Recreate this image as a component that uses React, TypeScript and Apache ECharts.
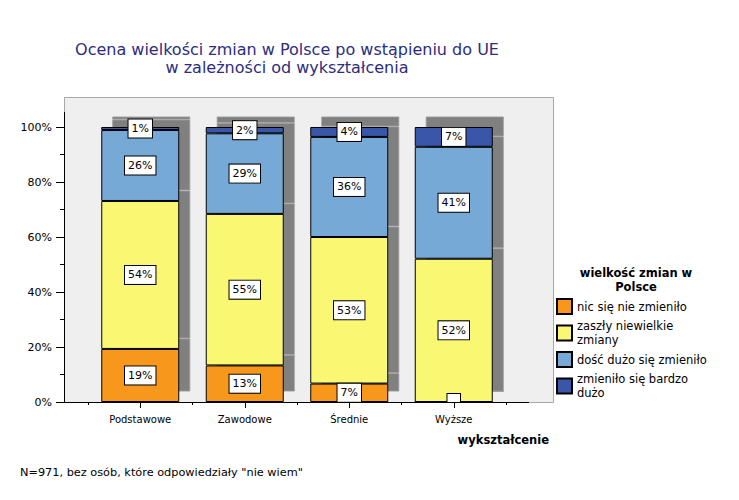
import React, { useEffect, useRef } from "react";
import * as echarts from "echarts";

const categories = ["Podstawowe", "Zawodowe", "Średnie", "Wyższe"];
const seriesNames = [
  "nic się nie zmieniło",
  "zaszły niewielkie\nzmiany",
  "dość dużo się zmieniło",
  "zmieniło się bardzo\ndużo",
];
const nicSieNieZmienilo = [19.3, 13.3, 6.7, 0];
const zaszlyNiewielkieZmiany = [53.8, 55.1, 53.3, 52.1];
const doscDuzoSieZmienilo = [25.8, 29.3, 36.4, 40.7];
const zmieniloSieBardzoDuzo = [1.1, 2.3, 3.6, 7.2];
const yTicks = [0, 20, 40, 60, 80, 100];

const seriesData = [nicSieNieZmienilo, zaszlyNiewielkieZmiany, doscDuzoSieZmienilo, zmieniloSieBardzoDuzo];
const colors = ["#F7981D", "#FAF873", "#77A9D6", "#3A56A8"];
const FONT = "DejaVu Sans";

export default function App() {
  const ref = useRef<HTMLDivElement>(null);
  useEffect(() => {
    const chart = echarts.init(ref.current!, null, { renderer: "svg" });
    const mainSeries = seriesData.map((d, i) => ({
      name: seriesNames[i],
      type: "bar",
      stack: "main",
      xAxisIndex: 0,
      yAxisIndex: 0,
      barWidth: 78,
      z: 5,
      data: d.map((v) =>
        v > 0
          ? v
          : {
              value: v,
              label: {
                formatter: " ",
                padding: [0, 5, 0, 5],
                lineHeight: 8,
                fontSize: 8,
                offset: [0, -4],
              },
            }
      ),
      itemStyle: { color: colors[i], borderColor: "#000", borderWidth: 1 },
      label: {
        show: true,
        position: "inside",
        formatter: (p: any) => Math.round(p.value) + "%",
        backgroundColor: "#fff",
        borderColor: "#000",
        borderWidth: 1,
        padding: [4, 3, 3, 3],
        fontSize: 11,
        fontFamily: FONT,
        color: "#000",
      },
      emphasis: { disabled: true },
    }));
    const shadowSeries = seriesData.map((d, i) => ({
      name: "shadow" + i,
      type: "bar",
      stack: "shadow",
      xAxisIndex: 2,
      yAxisIndex: 1,
      barWidth: 78,
      z: 1,
      silent: true,
      data: d,
      itemStyle: { color: "#808080", borderColor: "#A0A0A0", borderWidth: 0.8 },
      emphasis: { disabled: true },
    }));
    const legendTops = [293, 314, 346, 367];
    const option: any = {
      animation: false,
      backgroundColor: "#fff",
      textStyle: { fontFamily: FONT },
      grid: [
        { left: 88, right: 233, top: 127, bottom: 98 },
        { left: 99, right: 222, top: 116.5, bottom: 108.5 },
      ],
      xAxis: [
        {
          type: "category",
          gridIndex: 0,
          position: "bottom",
          data: categories,
          axisLine: { show: true, lineStyle: { color: "#000", width: 1 } },
          axisTick: { show: true, alignWithLabel: true, length: 6, lineStyle: { color: "#000" } },
          axisLabel: { fontSize: 10, fontFamily: FONT, color: "#000", margin: 12 },
        },
        {
          type: "category",
          gridIndex: 0,
          position: "bottom",
          data: categories,
          axisLine: { show: false },
          axisTick: { show: true, length: 3, lineStyle: { color: "#000" } },
          axisLabel: { show: false },
        },
        { type: "category", gridIndex: 1, data: categories, show: false },
      ],
      yAxis: [
        {
          type: "value",
          gridIndex: 0,
          min: 0,
          max: 100,
          interval: 20,
          offset: 24,
          axisLine: { show: true, lineStyle: { color: "#000" } },
          axisTick: { show: true, length: 8, lineStyle: { color: "#000" } },
          minorTick: { show: true, splitNumber: 2, length: 4, lineStyle: { color: "#000" } },
          splitLine: { show: false },
          axisLabel: {
            fontSize: 11,
            fontFamily: FONT,
            color: "#000",
            margin: 12,
            formatter: (v: number) => (yTicks.includes(v) ? v + "%" : ""),
          },
        },
        { type: "value", gridIndex: 1, min: 0, max: 100, show: false },
      ],
      legend: seriesNames.map((n, i) => ({
        data: [n],
        orient: "vertical",
        left: 551,
        top: legendTops[i],
        itemWidth: 15,
        itemHeight: 15,
        icon: "rect",
        selectedMode: false,
        textStyle: { fontSize: 11.5, fontFamily: FONT, color: "#000", lineHeight: 14 },
      })),
      graphic: [
        {
          type: "rect",
          z: -100,
          shape: { x: 64.5, y: 97.5, width: 489, height: 305 },
          style: { fill: "#EFEFEF", stroke: "#A8A8A8", lineWidth: 1 },
          silent: true,
        },
        {
          type: "line",
          z: 100,
          shape: { x1: 64, y1: 402.5, x2: 529, y2: 402.5 },
          style: { stroke: "#000", lineWidth: 1 },
          silent: true,
        },
        {
          type: "line",
          z: 100,
          shape: { x1: 64.5, y1: 112, x2: 64.5, y2: 402 },
          style: { stroke: "#000", lineWidth: 1 },
          silent: true,
        },
        {
          type: "text",
          x: 287,
          y: 58.5,
          style: {
            text: "Ocena wielkości zmian w Polsce po wstąpieniu do UE\nw zależności od wykształcenia",
            fill: "#2B2D80",
            font: `16px "${FONT}"`,
            lineHeight: 18,
            textAlign: "center",
            textVerticalAlign: "middle",
          },
        },
        {
          type: "text",
          x: 636,
          y: 280,
          style: {
            text: "wielkość zmian w\nPolsce",
            fill: "#000",
            font: `bold 11.5px "${FONT}"`,
            lineHeight: 14,
            textAlign: "center",
            textVerticalAlign: "middle",
          },
        },
        {
          type: "text",
          x: 549,
          y: 440,
          style: {
            text: "wykształcenie",
            fill: "#000",
            font: `bold 11.5px "${FONT}"`,
            textAlign: "right",
            textVerticalAlign: "middle",
          },
        },
        {
          type: "text",
          x: 20,
          y: 472,
          style: {
            text: 'N=971, bez osób, które odpowiedziały "nie wiem"',
            fill: "#000",
            font: `11.3px "${FONT}"`,
            textAlign: "left",
            textVerticalAlign: "middle",
          },
        },
      ],
      series: [...shadowSeries, ...mainSeries],
    };
    chart.setOption(option);
    return () => chart.dispose();
  }, []);
  return (
    <div
      ref={ref}
      style={{ position: "fixed", left: 0, top: 0, width: 739, height: 500, background: "#fff" }}
    />
  );
}
